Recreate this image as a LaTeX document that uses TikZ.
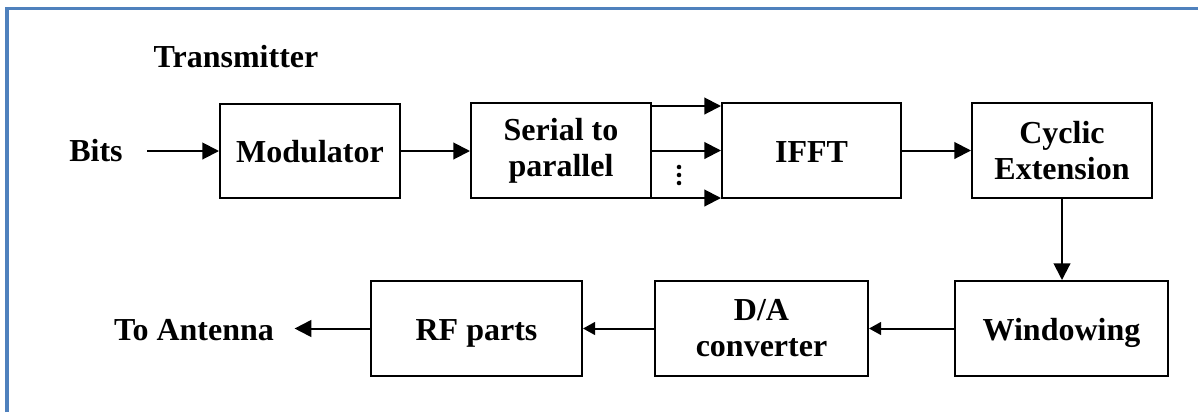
\documentclass[tikz,border=0pt]{standalone}
\usepackage{fontspec}
\setmainfont{Liberation Serif}
\usetikzlibrary{arrows.meta}
\definecolor{frameblue}{HTML}{4F81BD}
\begin{document}
\begin{tikzpicture}[x=0.75pt,y=-0.75pt,
  font=\fontsize{24pt}{27pt}\selectfont\bfseries,
  lbl/.style={inner sep=3.33pt},
  box/.style={draw,line width=1.5pt,align=center,inner sep=2pt},
  single/.style={text height=18pt,text depth=0.75pt},
  arrL/.style={line width=1.5pt,-{Triangle[length=12.5pt,width=12.5pt]}},
  arrS/.style={line width=1.5pt,-{Triangle[length=9pt,width=9.5pt]}},
  dotf/.style={fill=black}]
\useasboundingbox (0,0) rectangle (1198,412);
\draw[frameblue,line width=2.6pt] (7,412) -- (7,8.5) -- (1198,8.5);

% labels
\node[lbl,anchor=base] (tx) at (236,67) {Transmitter};
\node[lbl,anchor=base] (bits) at (96,161) {Bits};
\node[lbl,anchor=base] (ant) at (194,340) {To Antenna};

% boxes
\node[box,single,minimum width=135pt,minimum height=70.5pt] (mod) at (310,151) {Modulator};
\node[box,minimum width=135pt,minimum height=71.25pt] (s2p) at (561,150.5) {Serial to\\parallel};
\node[box,single,minimum width=134.25pt,minimum height=71.25pt] (ifft) at (811.5,150.5) {IFFT};
\node[box,minimum width=135pt,minimum height=71.25pt] (cyc) at (1062,150.5) {Cyclic\\Extension};
\node[box,single,minimum width=159.75pt,minimum height=71.25pt] (win) at (1061.5,328.5) {Windowing};
\node[box,minimum width=159.75pt,minimum height=71.25pt] (da) at (761.5,328.5) {D/A\\converter};
\node[box,single,minimum width=158.25pt,minimum height=71.25pt] (rf) at (476.5,328.5) {RF parts};

% connectors
\draw[arrL,shorten <=15pt] (bits.east |- mod.west) -- (mod.west);
\draw[arrL] (mod.east) -- (mod.east -| s2p.west);
\draw[arrL] ([yshift=-3pt]s2p.north east) -- ([yshift=-3pt]ifft.north west);
\draw[arrL] (s2p.east) -- (ifft.west);
\draw[arrL] ([yshift=0.75pt]s2p.south east) -- ([yshift=0.75pt]ifft.south west);
\draw[arrL] (ifft.east) -- (cyc.west);
\draw[arrL] (cyc.south) -- (cyc.south |- win.north);
\draw[arrS] (win.west) -- (win.west -| da.east);
\draw[arrS] (da.west) -- (da.west -| rf.east);
\draw[arrL,shorten >=12pt] (rf.west) -- (ant.east |- rf.west);

% vertical dots between the parallel lines
\fill[dotf] (679,167) circle[radius=1.7pt];
\fill[dotf] (679,175) circle[radius=1.7pt];
\fill[dotf] (679,183) circle[radius=1.7pt];
\end{tikzpicture}
\end{document}
